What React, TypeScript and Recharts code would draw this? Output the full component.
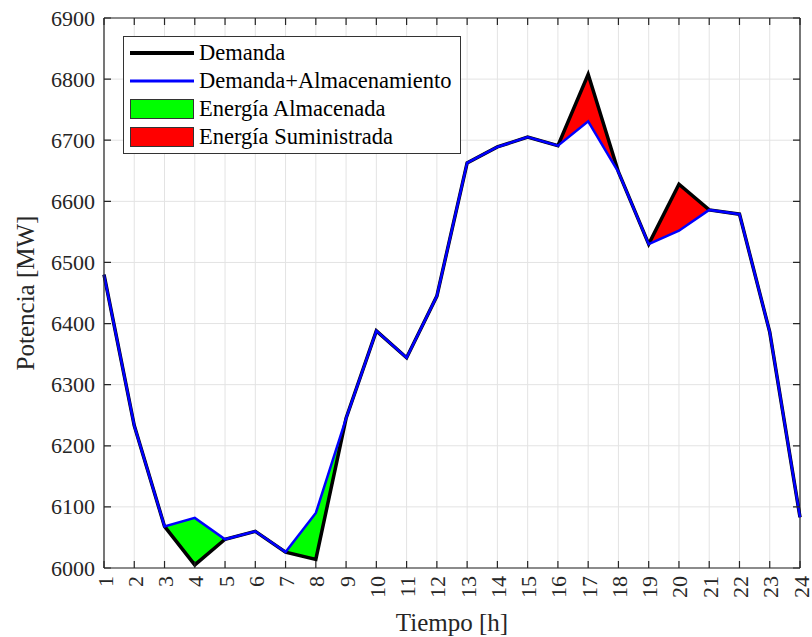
import {
  Area,
  CartesianGrid,
  ComposedChart,
  Label,
  Legend,
  Line,
  ReferenceLine,
  XAxis,
  YAxis,
} from 'recharts'

// Hourly demand vs. demand with storage.
const hours = [1, 2, 3, 4, 5, 6, 7, 8, 9, 10, 11, 12, 13, 14, 15, 16, 17, 18, 19, 20, 21, 22, 23, 24]
const demanda = [6480, 6233, 6068, 6005, 6047, 6060, 6026, 6014, 6245, 6388, 6344, 6445, 6663, 6689, 6705, 6691, 6808, 6648, 6530, 6628, 6586, 6579, 6386, 6083]
const demandaAlm = [6480, 6233, 6068, 6082, 6047, 6060, 6026, 6090, 6245, 6388, 6344, 6445, 6663, 6689, 6705, 6691, 6731, 6648, 6530, 6552, 6586, 6579, 6386, 6083]
// hours where storage charges (green) and discharges (red)
const chargeHours = [3, 4, 5, 7, 8, 9]
const dischargeHours = [16, 17, 18, 19, 20, 21]
const yTicks = [6000, 6100, 6200, 6300, 6400, 6500, 6600, 6700, 6800, 6900]

const data = hours.map((h, i) => ({
  hour: h,
  demanda: demanda[i],
  alm: demandaAlm[i],
  stored: chargeHours.includes(h) ? [demanda[i], demandaAlm[i]] : null,
  supplied: dischargeHours.includes(h) ? [demandaAlm[i], demanda[i]] : null,
}))

const FONT = '"Liberation Serif", "Times New Roman", serif'
const AXIS = '#262626'
const GRID = '#e3e3e3'
const TICK_MARGIN = 8
const FS = 22
const LABEL_FS = 25

// layout
const W = 812
const H = 637
const MARGIN = { top: 18, right: 12, bottom: 0, left: 0 }
const X_AXIS_H = 69
const Y_AXIS_W = 104
const PLOT_W = W - Y_AXIS_W - MARGIN.left - MARGIN.right
const PLOT_H = H - X_AXIS_H - MARGIN.top - MARGIN.bottom
const TICK_LEN = 7

// bottom tick label + inward tick marks on bottom and top edges (MATLAB box style)
function XTick({ x, y, payload }: any) {
  const axisY = y - TICK_MARGIN
  const topY = axisY - PLOT_H
  return (
    <g>
      <path
        d={`M${x},${axisY}V${axisY - TICK_LEN}M${x},${topY}V${topY + TICK_LEN}`}
        stroke={AXIS}
        strokeWidth={1.2}
        fill="none"
      />
      <text
        transform={`translate(${x + 1},${axisY + 8}) rotate(-90)`}
        textAnchor="end"
        dominantBaseline="central"
        fontFamily={FONT}
        fontSize={FS}
        fill={AXIS}
      >
        {payload.value}
      </text>
    </g>
  )
}

function YTick({ x, y, payload }: any) {
  const axisX = x + TICK_MARGIN
  const rightX = axisX + PLOT_W
  return (
    <g>
      <path
        d={`M${axisX},${y}H${axisX + TICK_LEN}M${rightX},${y}H${rightX - TICK_LEN}`}
        stroke={AXIS}
        strokeWidth={1.2}
        fill="none"
      />
      <text
        x={axisX - 9}
        y={y}
        textAnchor="end"
        dominantBaseline="central"
        fontFamily={FONT}
        fontSize={FS}
        fill={AXIS}
      >
        {payload.value}
      </text>
    </g>
  )
}

const legendItems = [
  { label: 'Demanda', kind: 'line', color: '#000000', w: 4 },
  { label: 'Demanda+Almacenamiento', kind: 'line', color: '#0000ff', w: 3 },
  { label: 'Energía Almacenada', kind: 'patch', color: '#00ff00', w: 0 },
  { label: 'Energía Suministrada', kind: 'patch', color: '#ff0000', w: 0 },
]

function LegendBox() {
  return (
    <div
      style={{
        border: '1px solid #333',
        background: '#fff',
        padding: '2px 8px 2px 6px',
        fontFamily: FONT,
        fontSize: 22.5,
        color: '#000',
      }}
    >
      {legendItems.map((it) => (
        <div key={it.label} style={{ display: 'flex', alignItems: 'center', height: 28 }}>
          <svg width={64} height={22} style={{ marginRight: 5 }}>
            {it.kind === 'line' ? (
              <line x1={0} x2={64} y1={11} y2={11} stroke={it.color} strokeWidth={it.w} />
            ) : (
              <rect x={0.5} y={1.5} width={63} height={19} fill={it.color} stroke="#333" />
            )}
          </svg>
          <span style={{ whiteSpace: 'nowrap' }}>{it.label}</span>
        </div>
      ))}
    </div>
  )
}

export default function App() {
  return (
    <div style={{ position: 'absolute', left: 0, top: 0, background: '#fff' }}>
      <ComposedChart width={W} height={H} data={data} margin={MARGIN}>
        <CartesianGrid stroke={GRID} strokeWidth={1} />
        <XAxis
          dataKey="hour"
          type="number"
          domain={[1, 24]}
          ticks={hours}
          interval={0}
          height={X_AXIS_H}
          stroke={AXIS}
          strokeWidth={1.2}
          tickLine={false}
          tickSize={0}
          tickMargin={TICK_MARGIN}
          tick={<XTick />}
        >
          <Label
            value="Tiempo [h]"
            position="insideBottom"
            offset={6}
            style={{ fontFamily: FONT, fontSize: LABEL_FS, fill: AXIS }}
          />
        </XAxis>
        <YAxis
          type="number"
          domain={[6000, 6900]}
          ticks={yTicks}
          width={Y_AXIS_W}
          stroke={AXIS}
          strokeWidth={1.2}
          tickLine={false}
          tickSize={0}
          tickMargin={TICK_MARGIN}
          tick={<YTick />}
        >
          <Label
            value="Potencia [MW]"
            angle={-90}
            position="center"
            dx={-27}
            style={{ fontFamily: FONT, fontSize: LABEL_FS, fill: AXIS, textAnchor: 'middle' }}
          />
        </YAxis>
        {/* top and right edges of the box */}
        <ReferenceLine y={6900} stroke={AXIS} strokeWidth={1.2} ifOverflow="visible" />
        <ReferenceLine x={24} stroke={AXIS} strokeWidth={1.2} ifOverflow="visible" />
        <Legend
          layout="vertical"
          align="center"
          verticalAlign="middle"
          content={<LegendBox />}
          wrapperStyle={{ left: 123, top: 36, width: 'auto' }}
        />
        <Area
          dataKey="stored"
          fill="#00ff00"
          fillOpacity={1}
          stroke="#000"
          strokeWidth={1}
          connectNulls={false}
          isAnimationActive={false}
        />
        <Area
          dataKey="supplied"
          fill="#ff0000"
          fillOpacity={1}
          stroke="#000"
          strokeWidth={1}
          connectNulls={false}
          isAnimationActive={false}
        />
        <Line
          dataKey="demanda"
          stroke="#000000"
          strokeWidth={3.5}
          dot={false}
          activeDot={false}
          isAnimationActive={false}
        />
        <Line
          dataKey="alm"
          stroke="#0000ff"
          strokeWidth={2.5}
          dot={false}
          activeDot={false}
          isAnimationActive={false}
        />
      </ComposedChart>
    </div>
  )
}
